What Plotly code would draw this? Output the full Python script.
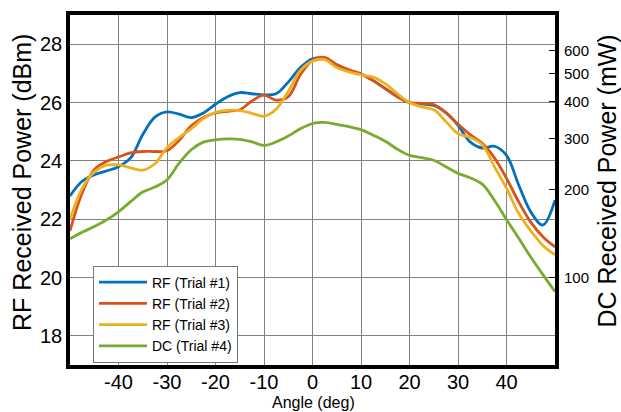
import plotly.graph_objects as go

angle = [-50, -47.5, -45, -42.5, -40, -37.5, -35, -32.5, -30, -27.5, -25, -22.5,
         -20, -17.5, -15, -12.5, -10, -7.5, -5, -2.5, 0, 2.5, 5, 7.5, 10, 12.5,
         15, 17.5, 20, 22.5, 25, 27.5, 30, 32.5, 35, 37.5, 40, 42.5, 45, 47.5, 50]

rf_trial1 = [22.8, 23.3, 23.52, 23.65, 23.8, 24.1, 24.9, 25.5, 25.68, 25.6, 25.48, 25.64,
             25.94, 26.2, 26.34, 26.3, 26.26, 26.3, 26.7, 27.2, 27.5, 27.5, 27.28, 27.1,
             26.98, 26.75, 26.48, 26.2, 26.0, 25.95, 25.9, 25.65, 25.22, 24.65, 24.44,
             24.5, 24.19, 23.18, 22.25, 21.8, 22.65]
rf_trial2 = [21.6, 22.9, 23.7, 23.98, 24.13, 24.27, 24.32, 24.32, 24.35, 24.7, 25.2, 25.49,
             25.64, 25.7, 25.75, 26.05, 26.25, 26.08, 26.2, 26.95, 27.45, 27.55, 27.3, 27.12,
             26.98, 26.75, 26.48, 26.2, 26.0, 25.97, 25.93, 25.65, 25.26, 24.9, 24.6,
             24.1, 23.4, 22.6, 21.9, 21.4, 21.05]
rf_trial3 = [22.0, 23.05, 23.62, 23.85, 23.86, 23.76, 23.68, 23.9, 24.45, 24.8, 25.1, 25.45,
             25.66, 25.73, 25.72, 25.63, 25.53, 25.77, 26.38, 27.1, 27.42, 27.47, 27.2, 27.05,
             26.95, 26.87, 26.65, 26.3, 26.0, 25.85, 25.75, 25.35, 24.93, 24.8, 24.55,
             23.8, 23.06, 22.2, 21.6, 21.1, 20.78]
dc_trial4_mw = [135.8, 142.9, 149.6, 157.4, 167.9, 182.0, 196.3, 204.2, 216.3, 246.6, 274.2,
                291.1, 296.5, 298.5, 297.8, 291.7, 283.8, 291.7, 305.5, 323.6, 337.3, 340.4,
                335.0, 328.9, 321.4, 307.6, 293.1, 275.4, 262.4, 257.6, 252.3, 239.9, 227.5,
                219.8, 208.9, 184.1, 158.1, 136.5, 117.5, 102.3, 89.5]

x_ticks = [-40, -30, -20, -10, 0, 10, 20, 30, 40]
x_tick_labels = ["-40", "-30", "-20", "-10", "0", "10", "20", "30", "40"]
rf_ticks = [18, 20, 22, 24, 26, 28]
dc_ticks = [100, 200, 300, 400, 500, 600]

names = ["RF (Trial #1)", "RF (Trial #2)", "RF (Trial #3)", "DC (Trial #4)"]
colors = ["#0072BD", "#D95319", "#EDB120", "#77AC30"]

FONT = "Liberation Sans, Arial, sans-serif"

fig = go.Figure()
for name, ys, c in zip(names[:3], [rf_trial1, rf_trial2, rf_trial3], colors[:3]):
    fig.add_trace(go.Scatter(x=angle, y=ys, name=name, mode="lines",
                             line=dict(color=c, width=2.8, shape="spline", smoothing=1.0),
                             yaxis="y"))
fig.add_trace(go.Scatter(x=angle, y=dc_trial4_mw, name=names[3], mode="lines",
                         line=dict(color=colors[3], width=2.8, shape="spline", smoothing=1.0),
                         yaxis="y2"))

fig.update_layout(
    width=621, height=412,
    margin=dict(l=70, r=66, t=11, b=47),
    paper_bgcolor="white", plot_bgcolor="white",
    font=dict(family=FONT, color="black"),
    showlegend=True,
    legend=dict(x=0.0474, y=0.284, xanchor="left", yanchor="top",
                bgcolor="white", bordercolor="#777777", borderwidth=1,
                font=dict(size=14, family=FONT), itemwidth=48,
                tracegroupgap=0),
    xaxis=dict(range=[-50, 50], tickvals=x_ticks, ticktext=x_tick_labels,
               showgrid=True, gridcolor="#808080",
               gridwidth=1, zeroline=False, showline=True, linecolor="black",
               linewidth=3.5, mirror=True, ticks="", tickfont=dict(size=20),
               ticklabelstandoff=-4),
    yaxis=dict(range=[17, 29], tickvals=rf_ticks, showgrid=True, gridcolor="#808080",
               gridwidth=1, zeroline=False, showline=True, linecolor="black",
               linewidth=3.5, mirror=True, ticks="", tickfont=dict(size=20)),
    yaxis2=dict(type="log", range=[1.7, 2.9], overlaying="y", side="right",
                tickvals=dc_ticks, ticktext=[str(v) for v in dc_ticks],
                showgrid=False, zeroline=False, showline=False,
                ticks="inside", ticklen=6, tickwidth=1, tickcolor="black",
                tickfont=dict(size=15), ticklabelstandoff=8),
    annotations=[
        dict(text="RF Received Power (dBm)", xref="paper", yref="paper",
             x=-0.099, y=0.523, textangle=-90, showarrow=False,
             font=dict(size=25, family=FONT), xanchor="center", yanchor="middle"),
        dict(text="DC Received Power (mW)", xref="paper", yref="paper",
             x=1.107, y=0.527, textangle=-90, showarrow=False,
             font=dict(size=25, family=FONT), xanchor="center", yanchor="middle"),
        dict(text="Angle (deg)", xref="paper", yref="paper",
             x=0.503, y=-0.106, showarrow=False,
             font=dict(size=16, family=FONT), xanchor="center", yanchor="middle"),
    ],
)

fig.write_html("out.html")
